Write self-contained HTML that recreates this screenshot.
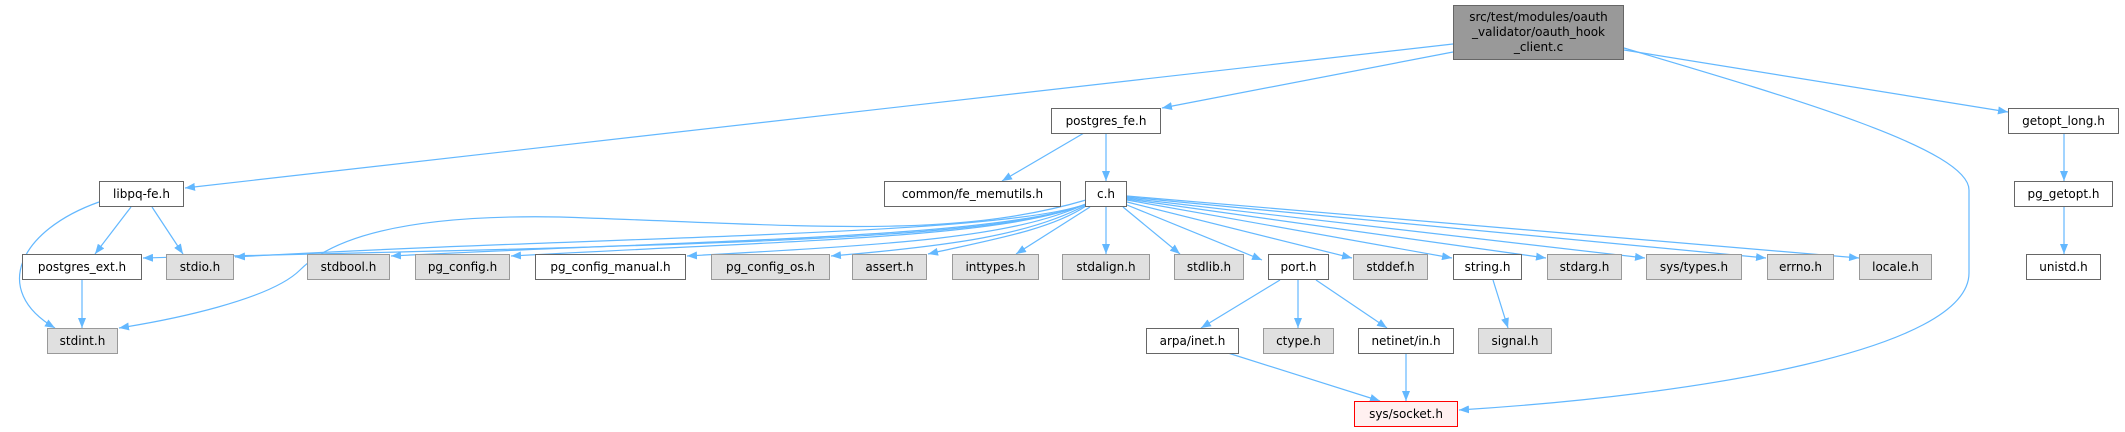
<!DOCTYPE html>
<html><head><meta charset="utf-8"><style>
html,body{margin:0;padding:0;background:#fff;}
body{width:2125px;height:432px;position:relative;overflow:hidden;font-family:"DejaVu Sans","Liberation Sans",sans-serif;font-size:12px;color:#000;}
.n{position:absolute;box-sizing:border-box;border:1px solid #666;background:#fff;display:flex;align-items:center;justify-content:center;text-align:center;white-space:nowrap;}
.g{background:#e0e0e0;border-color:#999;}
svg{position:absolute;left:0;top:0;}
</style></head><body>
<svg width="2125" height="432" viewBox="0 0 2125 432">
<defs><marker id="a" markerWidth="11" markerHeight="8" refX="10" refY="4" orient="auto" markerUnits="userSpaceOnUse"><path d="M0,0 L10,4 L0,8 z" fill="#63b8ff"/></marker></defs>
<g fill="none" stroke="#63b8ff" stroke-width="1.2" marker-end="url(#a)">
<path d="M1453,44 L185,188"/>
<path d="M1453,52 L1162,108"/>
<path d="M1624,48 C1800,100 1969,150 1969,190 L1969,273 C1969,350 1700,395 1459,410"/>
<path d="M1624,50 L2008,112"/>
<path d="M1084,133 L1002,181"/>
<path d="M1106,133 L1106,181"/>
<path d="M2064,133 L2064,181"/>
<path d="M2064,207 L2064,254"/>
<path d="M131,207 L95,254"/>
<path d="M152,207 L183,254"/>
<path d="M99,202 C20,230 -10,290 55,328"/>
<path d="M82,280 L82,328"/>
<path d="M1086,204 C1000,240 700,245 143,258"/>
<path d="M1086,204 C1000,236 600,236 235,257"/>
<path d="M1086,204 C1000,238 700,240 391,256"/>
<path d="M1086,204 C1000,238 800,240 511,256"/>
<path d="M1086,204 C1010,238 900,244 687,256"/>
<path d="M1086,205 C1030,235 950,246 831,256"/>
<path d="M1086,206 C1050,230 990,240 928,254"/>
<path d="M1090,207 L1016,254"/>
<path d="M1106,207 L1106,254"/>
<path d="M1123,207 L1180,254"/>
<path d="M1127,205 L1262,260"/>
<path d="M1127,202 L1352,258"/>
<path d="M1127,200 L1452,258"/>
<path d="M1127,199 L1546,258"/>
<path d="M1127,198 L1645,258"/>
<path d="M1127,197 L1766,258"/>
<path d="M1127,196 L1859,258"/>
<path d="M1086,200 C950,240 800,225 560,217 C400,214 330,240 300,270 C270,300 170,320 119,328"/>
<path d="M1280,280 L1201,328"/>
<path d="M1298,280 L1298,328"/>
<path d="M1316,280 L1387,328"/>
<path d="M1493,280 L1508,328"/>
<path d="M1228,353 L1380,401"/>
<path d="M1406,353 L1406,401"/>
</g></svg>
<div class="n" style="left:1453px;top:5px;width:171px;height:55px;background:#999;border-color:#666;line-height:15px;white-space:normal;">src/test/modules/oauth<br>_validator/oauth_hook<br>_client.c</div>
<div class="n" style="left:1051px;top:108px;width:110px;height:26px;">postgres_fe.h</div>
<div class="n" style="left:2008px;top:108px;width:111px;height:26px;">getopt_long.h</div>
<div class="n" style="left:99px;top:181px;width:85px;height:26px;">libpq-fe.h</div>
<div class="n" style="left:884px;top:181px;width:177px;height:26px;">common/fe_memutils.h</div>
<div class="n" style="left:1085px;top:181px;width:42px;height:26px;">c.h</div>
<div class="n" style="left:2014px;top:181px;width:99px;height:26px;">pg_getopt.h</div>
<div class="n" style="left:22px;top:254px;width:120px;height:26px;">postgres_ext.h</div>
<div class="n g" style="left:166px;top:254px;width:68px;height:26px;">stdio.h</div>
<div class="n g" style="left:307px;top:254px;width:83px;height:26px;">stdbool.h</div>
<div class="n g" style="left:415px;top:254px;width:95px;height:26px;">pg_config.h</div>
<div class="n" style="left:535px;top:254px;width:151px;height:26px;">pg_config_manual.h</div>
<div class="n g" style="left:711px;top:254px;width:119px;height:26px;">pg_config_os.h</div>
<div class="n g" style="left:852px;top:254px;width:75px;height:26px;">assert.h</div>
<div class="n g" style="left:952px;top:254px;width:87px;height:26px;">inttypes.h</div>
<div class="n g" style="left:1062px;top:254px;width:88px;height:26px;">stdalign.h</div>
<div class="n g" style="left:1174px;top:254px;width:70px;height:26px;">stdlib.h</div>
<div class="n" style="left:1268px;top:254px;width:61px;height:26px;">port.h</div>
<div class="n g" style="left:1353px;top:254px;width:75px;height:26px;">stddef.h</div>
<div class="n" style="left:1453px;top:254px;width:69px;height:26px;">string.h</div>
<div class="n g" style="left:1547px;top:254px;width:75px;height:26px;">stdarg.h</div>
<div class="n g" style="left:1646px;top:254px;width:96px;height:26px;">sys/types.h</div>
<div class="n g" style="left:1767px;top:254px;width:67px;height:26px;">errno.h</div>
<div class="n g" style="left:1859px;top:254px;width:73px;height:26px;">locale.h</div>
<div class="n" style="left:2026px;top:254px;width:75px;height:26px;">unistd.h</div>
<div class="n g" style="left:47px;top:328px;width:71px;height:26px;">stdint.h</div>
<div class="n" style="left:1146px;top:328px;width:93px;height:26px;">arpa/inet.h</div>
<div class="n g" style="left:1263px;top:328px;width:71px;height:26px;">ctype.h</div>
<div class="n" style="left:1358px;top:328px;width:96px;height:26px;">netinet/in.h</div>
<div class="n g" style="left:1478px;top:328px;width:74px;height:26px;">signal.h</div>
<div class="n" style="left:1354px;top:401px;width:104px;height:26px;background:#fff0f0;border-color:#f00;">sys/socket.h</div>
</body></html>
